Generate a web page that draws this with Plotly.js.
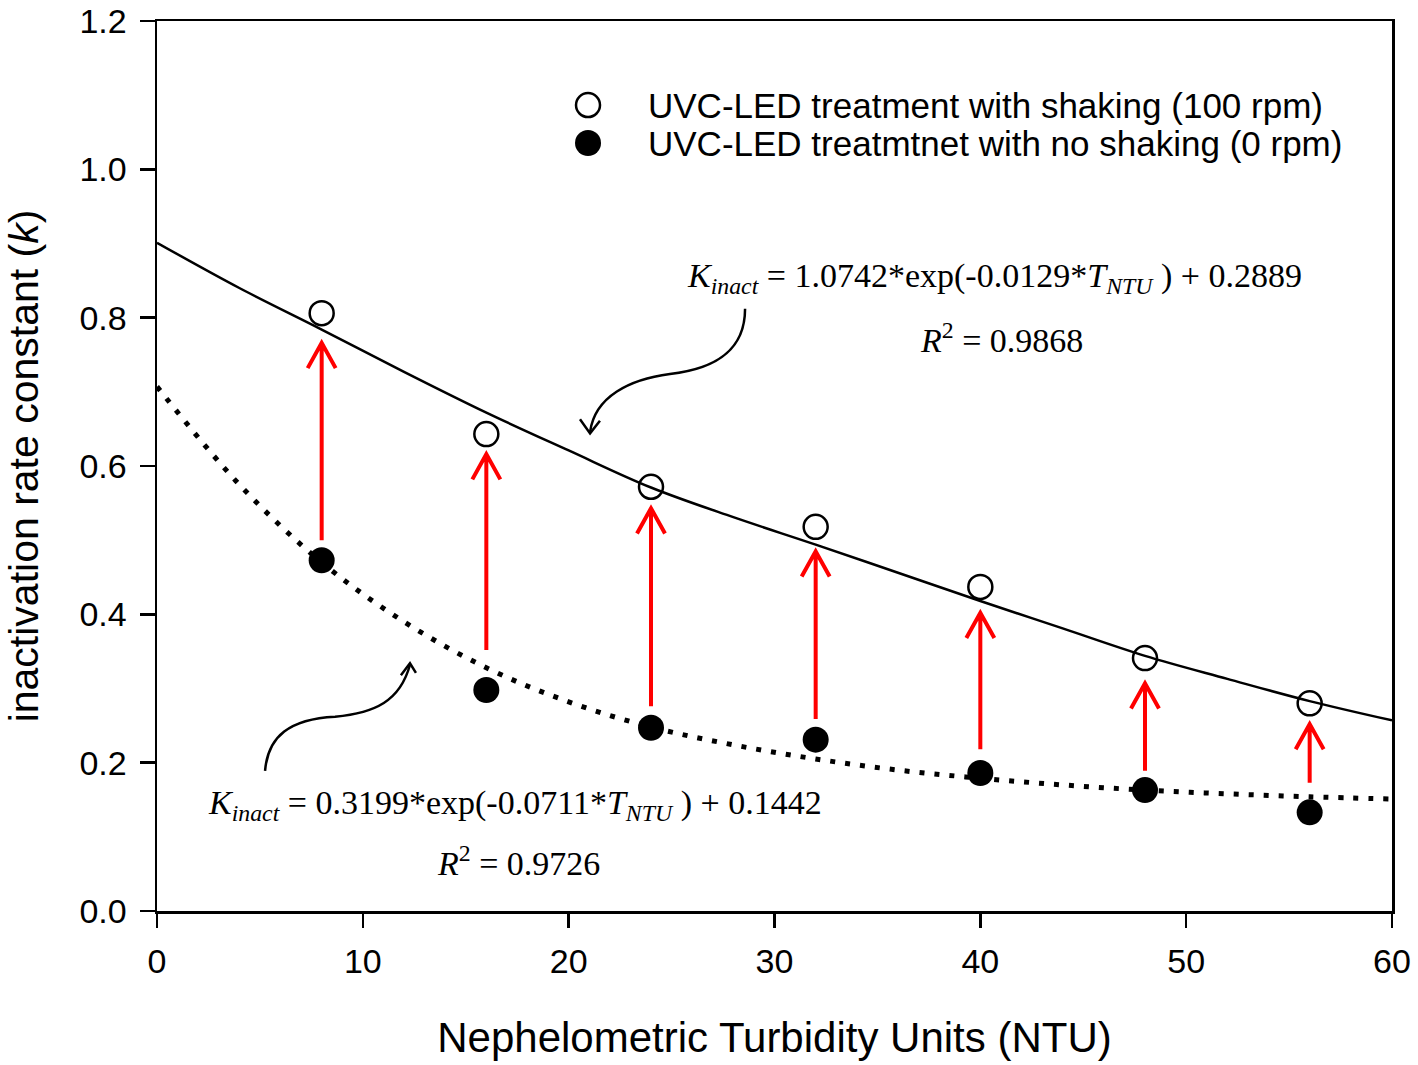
<!DOCTYPE html>
<html>
<head>
<meta charset="utf-8">
<script src="https://cdn.plot.ly/plotly-3.0.1.min.js"></script>
<style>html,body{margin:0;padding:0;background:#fff}#chart{width:1418px;height:1065px}</style>
</head>
<body>
<div id="chart"></div>
<script>
// ---- data ----
const turbidity = [8, 16, 24, 32, 40, 48, 56];
const kShaking = [0.806, 0.643, 0.572, 0.518, 0.437, 0.341, 0.280];
const kNoShaking = [0.473, 0.298, 0.247, 0.231, 0.186, 0.163, 0.133];

// fitted curves as drawn (read at every 4 NTU)
const fitX = [0, 4, 8, 12, 16, 20, 24, 28, 32, 36, 40, 44, 48, 52, 56, 60];
const fitShaking = [0.901, 0.840, 0.784, 0.727, 0.672, 0.621, 0.571, 0.531, 0.494, 0.456, 0.418, 0.381, 0.344, 0.313, 0.283, 0.257];
const fitNoShaking = [0.707, 0.575, 0.470, 0.390, 0.328, 0.282, 0.248, 0.224, 0.205, 0.190, 0.179, 0.170, 0.163, 0.158, 0.154, 0.151];

// red arrows (tail and tip values)
const arrowFrom = [0.500, 0.352, 0.276, 0.259, 0.218, 0.189, 0.173];
const arrowTo = [0.766, 0.616, 0.543, 0.485, 0.402, 0.307, 0.252];

const legendNames = ['UVC-LED treatment with shaking (100 rpm)', 'UVC-LED treatmtnet with no shaking (0 rpm)'];
const eqUpper = '<i>K</i><sub><i>inact</i></sub> = 1.0742*exp(-0.0129*<i>T</i><sub><i>NTU</i></sub> ) + 0.2889';
const r2Upper = '<i>R</i><sup>2</sup> = 0.9868';
const eqLower = '<i>K</i><sub><i>inact</i></sub> = 0.3199*exp(-0.0711*<i>T</i><sub><i>NTU</i></sub> ) + 0.1442';
const r2Lower = '<i>R</i><sup>2</sup> = 0.9726';
const xTitle = 'Nephelometric Turbidity Units (NTU)';
const yTitle = 'inactivation rate constant (<i>k</i>)';

const SANS = 'Arial, "Liberation Sans", sans-serif';
const SERIF = '"Times New Roman", "Liberation Serif", serif';

const traces = [
  {x: fitX, y: fitShaking, mode: 'lines', line: {color: '#000', width: 2.5, shape: 'spline'}, showlegend: false, hoverinfo: 'skip'},
  {x: fitX, y: fitNoShaking, mode: 'lines', line: {color: '#000', width: 5, shape: 'spline', dash: '5px,10px'}, showlegend: false, hoverinfo: 'skip'},
  {x: turbidity, y: kShaking, mode: 'markers', name: legendNames[0], showlegend: false,
   marker: {symbol: 'circle-open', size: 24, color: '#000', line: {width: 2.5, color: '#000'}}},
  {x: turbidity, y: kNoShaking, mode: 'markers', name: legendNames[1], showlegend: false,
   marker: {symbol: 'circle', size: 26, color: '#000'}}
];

const shapes = [];
// red vertical arrows from filled to open
turbidity.forEach((t, i) => {
  const tip = arrowTo[i], tail = arrowFrom[i];
  const dx = 0.68, dy = 0.034;
  shapes.push({type: 'path', xref: 'x', yref: 'y', layer: 'above',
    path: `M${t},${tail} L${t},${tip} M${t - dx},${tip - dy} L${t},${tip} L${t + dx},${tip - dy}`,
    line: {color: '#ff0000', width: 4}});
});
// curved pointer arrows (decoration)
shapes.push({type: 'path', xref: 'x', yref: 'y',
  path: 'M28.57,0.812 C28.57,0.755 27.11,0.731 24.92,0.724 C22.98,0.717 21.28,0.694 21.04,0.646',
  line: {color: '#000', width: 2.5}});
shapes.push({type: 'path', xref: 'x', yref: 'y',
  path: 'M20.55,0.663 L21.04,0.644 L21.52,0.661',
  line: {color: '#000', width: 2.5}});
shapes.push({type: 'path', xref: 'x', yref: 'y',
  path: 'M5.25,0.189 C5.39,0.236 6.46,0.259 8.65,0.262 C10.59,0.267 11.81,0.283 12.29,0.332',
  line: {color: '#000', width: 2.5}});
shapes.push({type: 'path', xref: 'x', yref: 'y',
  path: 'M11.85,0.318 L12.29,0.334 L12.58,0.321',
  line: {color: '#000', width: 2.5}});

// legend (drawn manually so the symbols keep the plot marker size)
const legX = 0.349, legTextX = 0.396, legY = [0.9056, 0.8629];
shapes.push({type: 'circle', xref: 'paper', yref: 'paper', xsizemode: 'pixel', ysizemode: 'pixel',
  xanchor: legX, yanchor: legY[0], x0: -12, x1: 12, y0: -12, y1: 12,
  line: {color: '#000', width: 2.5}, fillcolor: 'rgba(0,0,0,0)'});
shapes.push({type: 'circle', xref: 'paper', yref: 'paper', xsizemode: 'pixel', ysizemode: 'pixel',
  xanchor: legX, yanchor: legY[1], x0: -13, x1: 13, y0: -13, y1: 13,
  line: {color: '#000', width: 0}, fillcolor: '#000'});

const annotations = [
  {x: 40.7, y: 0.853, xref: 'x', yref: 'y', text: eqUpper, showarrow: false, font: {family: SERIF, size: 34, color: '#000'}},
  {x: 41.05, y: 0.772, xref: 'x', yref: 'y', text: r2Upper, showarrow: false, font: {family: SERIF, size: 34, color: '#000'}},
  {x: 17.37, y: 0.143, xref: 'x', yref: 'y', text: eqLower, showarrow: false, font: {family: SERIF, size: 34, color: '#000'}},
  {x: 17.54, y: 0.068, xref: 'x', yref: 'y', text: r2Lower, showarrow: false, font: {family: SERIF, size: 34, color: '#000'}},
  {x: legTextX, y: legY[0], xref: 'paper', yref: 'paper', xanchor: 'left', yanchor: 'middle', text: legendNames[0], showarrow: false,
   font: {family: SANS, size: 35, color: '#000'}},
  {x: legTextX, y: legY[1], xref: 'paper', yref: 'paper', xanchor: 'left', yanchor: 'middle', text: legendNames[1], showarrow: false,
   font: {family: SANS, size: 35, color: '#000'}}
];

const layout = {
  width: 1418, height: 1065,
  margin: {l: 157, r: 26, t: 21, b: 154},
  paper_bgcolor: '#fff', plot_bgcolor: '#fff',
  showlegend: false,
  xaxis: {range: [0, 60], tickvals: [0, 10, 20, 30, 40, 50, 60], ticks: 'outside', ticklen: 14, tickwidth: 2.5,
    tickcolor: '#000', showline: true, linewidth: 2.5, linecolor: '#000', mirror: true,
    showgrid: false, zeroline: false, ticklabelstandoff: 5,
    tickfont: {family: SANS, size: 34, color: '#000'},
    title: {text: xTitle, font: {family: SANS, size: 42, color: '#000'}, standoff: 44}},
  yaxis: {range: [0, 1.2], tickvals: [0, 0.2, 0.4, 0.6, 0.8, 1.0, 1.2], tickformat: '.1f', ticks: 'outside', ticklen: 15, tickwidth: 2.5,
    tickcolor: '#000', showline: true, linewidth: 2.5, linecolor: '#000', mirror: true,
    showgrid: false, zeroline: false, ticklabelstandoff: 6,
    tickfont: {family: SANS, size: 34, color: '#000'},
    title: {text: yTitle, font: {family: SANS, size: 41, color: '#000'}, standoff: 28}},
  shapes: shapes,
  annotations: annotations
};

Plotly.newPlot('chart', traces, layout, {displayModeBar: false, staticPlot: true});
</script>
</body>
</html>
